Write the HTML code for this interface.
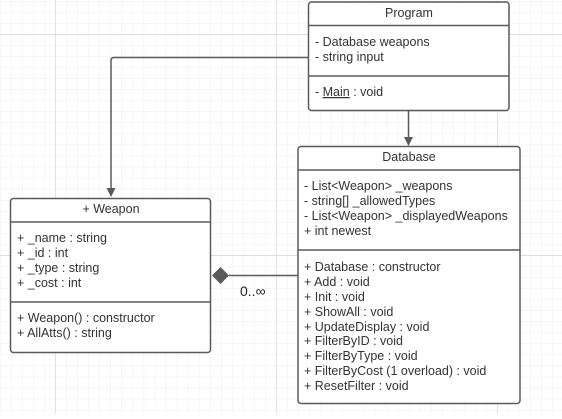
<!DOCTYPE html>
<html><head><meta charset="utf-8"><style>
html,body{margin:0;padding:0;background:#fff}
svg text{font-family:"Liberation Sans",Arial,sans-serif;font-size:12.5px;fill:#333}
</style></head><body>
<svg width="562" height="414" xmlns="http://www.w3.org/2000/svg">
<defs>
<pattern id="g" x="0" y="1" width="11.05" height="11.05" patternUnits="userSpaceOnUse">
<path d="M0 0H11.05M0 0V11.05" stroke="#ececec" stroke-width="1" fill="none"/>
</pattern>
</defs>
<rect width="562" height="414" fill="url(#g)"/>
<line x1="0" y1="34.5" x2="562" y2="34.5" stroke="#dcdcdc"/>
<line x1="0" y1="255.5" x2="562" y2="255.5" stroke="#dcdcdc"/>
<line x1="55.5" y1="0" x2="55.5" y2="414" stroke="#e2e2e2"/>
<line x1="276.5" y1="0" x2="276.5" y2="414" stroke="#e2e2e2"/>
<line x1="497.5" y1="0" x2="497.5" y2="414" stroke="#e2e2e2"/>

<g stroke="#5a5a5a" stroke-width="1.5" fill="none">
<!-- connectors -->
<path d="M308 57.5H114Q111 57.5 111 60.5V190"/>
<path d="M408.5 111V138"/>
<path d="M229 275.5H298"/>
</g>
<polygon points="111,197 106.5,188 115.5,188" fill="#5a5a5a"/>
<polygon points="408.5,146 404,137 413,137" fill="#5a5a5a"/>
<polygon points="212,275.5 220.5,267 229,275.5 220.5,284" fill="#5a5a5a"/>
<text x="240" y="296" style="font-size:14px;fill:#222">0..∞</text>

<!-- Program -->
<rect x="308.5" y="2" width="200.5" height="108.5" rx="3" fill="#fff" stroke="#5a5a5a" stroke-width="1.5"/>
<line x1="308.5" y1="25.5" x2="509" y2="25.5" stroke="#5a5a5a" stroke-width="1.5"/>
<line x1="308.5" y1="76" x2="509" y2="76" stroke="#5a5a5a" stroke-width="1.5"/>
<text x="409" y="17" text-anchor="middle">Program</text>
<text x="315" y="46">- Database weapons</text>
<text x="315" y="61">- string input</text>
<text x="315" y="96">- <tspan text-decoration="underline">Main</tspan> : void</text>

<!-- Database -->
<rect x="298" y="146.5" width="222" height="257" rx="3" fill="#fff" stroke="#5a5a5a" stroke-width="1.5"/>
<line x1="298" y1="170" x2="520" y2="170" stroke="#5a5a5a" stroke-width="1.5"/>
<line x1="298" y1="250" x2="520" y2="250" stroke="#5a5a5a" stroke-width="1.5"/>
<text x="409" y="161" text-anchor="middle">Database</text>
<text x="304" y="190">- List&lt;Weapon&gt; _weapons</text>
<text x="304" y="205">- string[] _allowedTypes</text>
<text x="304" y="220">- List&lt;Weapon&gt; _displayedWeapons</text>
<text x="304" y="235">+ int newest</text>
<text x="304" y="271">+ Database : constructor</text>
<text x="304" y="286">+ Add : void</text>
<text x="304" y="301">+ Init : void</text>
<text x="304" y="316">+ ShowAll : void</text>
<text x="304" y="331">+ UpdateDisplay : void</text>
<text x="304" y="345">+ FilterByID : void</text>
<text x="304" y="360">+ FilterByType : void</text>
<text x="304" y="375">+ FilterByCost (1 overload) : void</text>
<text x="304" y="390">+ ResetFilter : void</text>

<!-- Weapon -->
<rect x="10.5" y="198.5" width="200" height="154" rx="3" fill="#fff" stroke="#5a5a5a" stroke-width="1.5"/>
<line x1="10.5" y1="222" x2="210.5" y2="222" stroke="#5a5a5a" stroke-width="1.5"/>
<line x1="10.5" y1="302" x2="210.5" y2="302" stroke="#5a5a5a" stroke-width="1.5"/>
<text x="111" y="213" text-anchor="middle">+ Weapon</text>
<text x="17" y="242">+ _name : string</text>
<text x="17" y="257">+ _id : int</text>
<text x="17" y="272">+ _type : string</text>
<text x="17" y="287">+ _cost : int</text>
<text x="17" y="322">+ Weapon() : constructor</text>
<text x="17" y="337">+ AllAtts() : string</text>
</svg>
</body></html>
